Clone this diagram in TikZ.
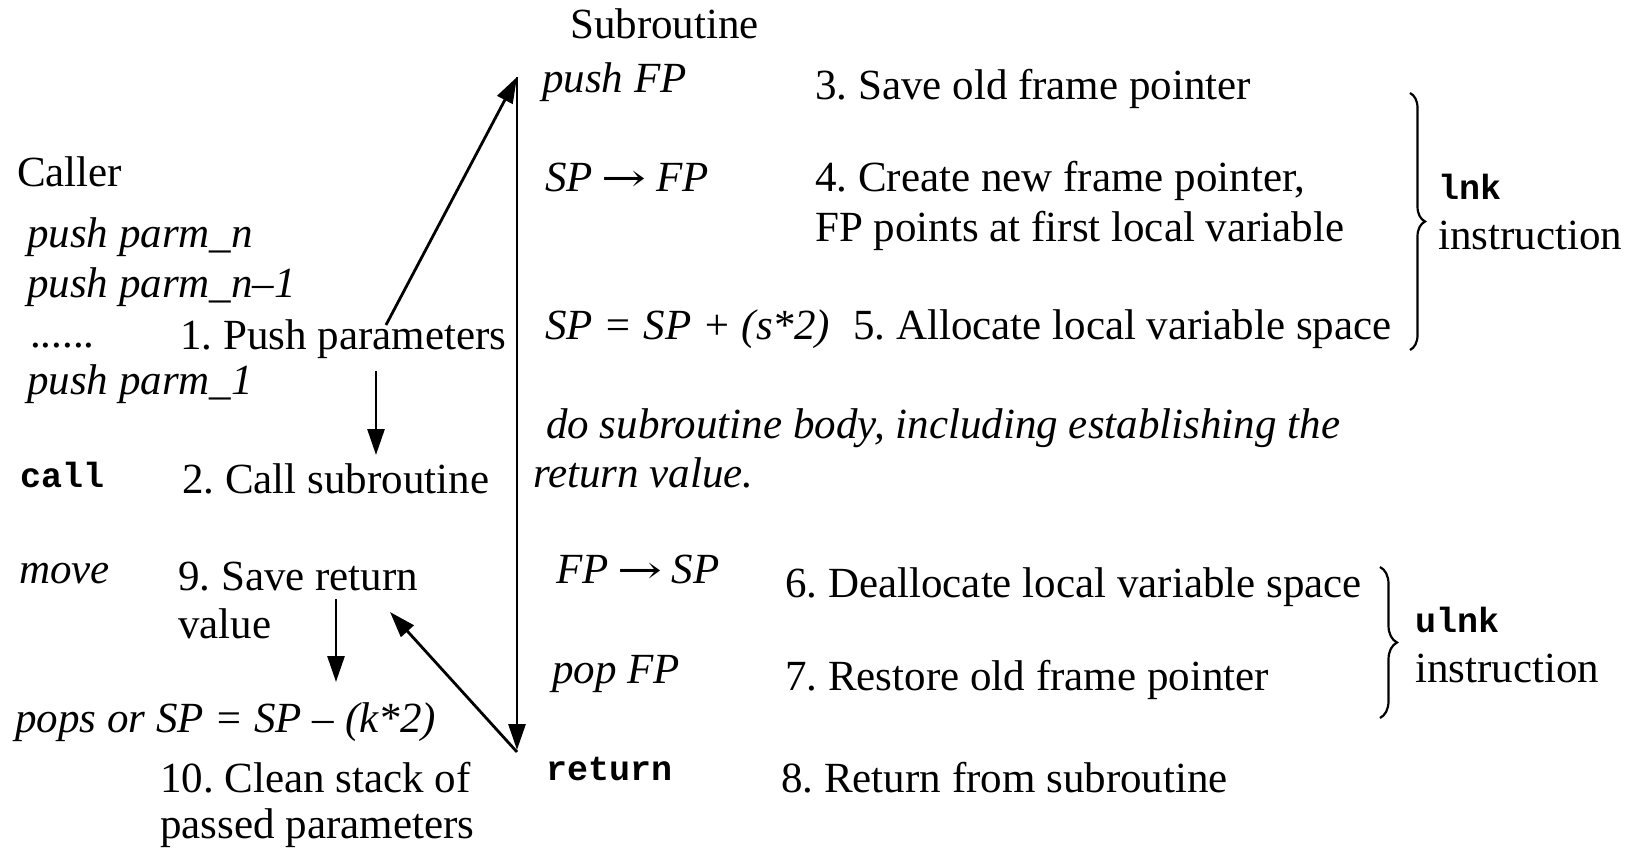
\documentclass[tikz,border=0pt]{standalone}
\usepackage{fontspec}
\setmainfont{Liberation Serif}
\setmonofont{Liberation Mono}
\newfontfamily\arrowfont{DejaVu Serif}
\usetikzlibrary{arrows.meta,decorations.pathreplacing}
\frenchspacing
\newcommand{\gives}{\kern0.2em{\upshape\arrowfont\scalebox{1.25}[0.9]{→}}\kern0.22em}

\begin{document}
\begin{tikzpicture}[x=1pt,y=-1pt,
  txt/.style={anchor=base west,inner sep=0pt,font=\fontsize{43}{49}\selectfont},
  code/.style={anchor=base west,inner sep=0pt,font=\fontsize{43}{49}\selectfont\itshape},
  mono/.style={anchor=base west,inner sep=0pt,font=\fontsize{35}{40}\selectfont\ttfamily\bfseries},
  flow/.style={line width=2.8pt,-{Triangle[length=26pt,width=17pt]}},
  grp/.style={line width=2.2pt,decorate,decoration={brace,amplitude=#1}}]

\useasboundingbox (0,0) rectangle (1631,850);

% ---- caller side ----
\node[txt]  (caller) at (17,187)  {Caller};
\node[code] (pn)     at (27,248)  {push parm\_n};
\node[code] (pn1)    at (27,298)  {push parm\_n–1};
\node[txt]  (dots)   at (30,348)  {......};
\node[txt]  (s1)     at (180,350) {1. Push parameters};
\node[code] (p1)     at (27,395)  {push parm\_1};
\node[mono] (call)   at (20,487)  {call};
\node[txt]  (s2)     at (182,493) {2. Call subroutine};
\node[code] (move)   at (19,583)  {move};
\node[txt]  (s9a)    at (178,590) {9. Save return};
\node[txt]  (s9b)    at (178,638) {value};
\node[code] (pops)   at (15,732)  {pops or SP = SP – (k*2)};
\node[txt]  (s10a)   at (160,792) {10. Clean stack of};
\node[txt]  (s10b)   at (160,838) {passed parameters};

% ---- subroutine side ----
\node[txt]  (subr)   at (570,39)  {Subroutine};
\node[code] (c3)     at (542,93)  {push FP};
\node[txt]  (s3)     at (815,100) {3. Save old frame pointer};
\node[code] (c4)     at (545,192) {SP\gives FP};
\node[txt]  (s4a)    at (815,192) {4. Create new frame pointer,};
\node[txt]  (s4b)    at (815,242) {FP points at first local variable};
\node[code] (c5)     at (545,340) {SP = SP + (s*2)};
\node[txt]  (s5)     at (853,340) {5. Allocate local variable space};
\node[code] (body1)  at (546,438) {do subroutine body, including establishing the};
\node[code] (body2)  at (533,487) {return value.};
\node[code] (c6)     at (556,583) {FP\gives SP};
\node[txt]  (s6)     at (785,597) {6. Deallocate local variable space};
\node[code] (c7)     at (552,683) {pop FP};
\node[txt]  (s7)     at (785,690) {7. Restore old frame pointer};
\node[mono] (ret)    at (546,780) {return};
\node[txt]  (s8)     at (781,792) {8. Return from subroutine};

% ---- instruction groups ----
\coordinate (lnkTop) at (1410,93);
\coordinate (lnkBot) at (1410,350);
\draw[grp=15pt] (lnkTop) -- (lnkBot);
\node[mono] (lnk)    at (1438,200) {lnk};
\node[txt]  (lnkI)   at (1438,250) {instruction};

\coordinate (ulnkTop) at (1380,567);
\coordinate (ulnkBot) at (1380,718);
\draw[grp=17pt] (ulnkTop) -- (ulnkBot);
\node[mono] (ulnk)   at (1415,632) {ulnk};
\node[txt]  (ulnkI)  at (1415,682) {instruction};

% ---- control flow ----
\coordinate (spineTop) at (517,77);
\coordinate (spineEnd) at (517,750);
\coordinate (spineBot) at (517,752);
\coordinate (pushOut)  at (386,325);
\coordinate (callIn)   at (376,371);
\coordinate (callTip)  at (376,455);
\coordinate (saveOut)  at (336,599);
\coordinate (saveTip)  at (336,682);
\coordinate (retTip)   at (390,612);

\draw[flow] (pushOut) -- (spineTop);
\draw[flow] (spineTop) -- (spineEnd);
\draw[flow] (spineBot) -- (retTip);
\draw[flow] (callIn) -- (callTip);
\draw[flow] (saveOut) -- (saveTip);
\end{tikzpicture}
\end{document}
